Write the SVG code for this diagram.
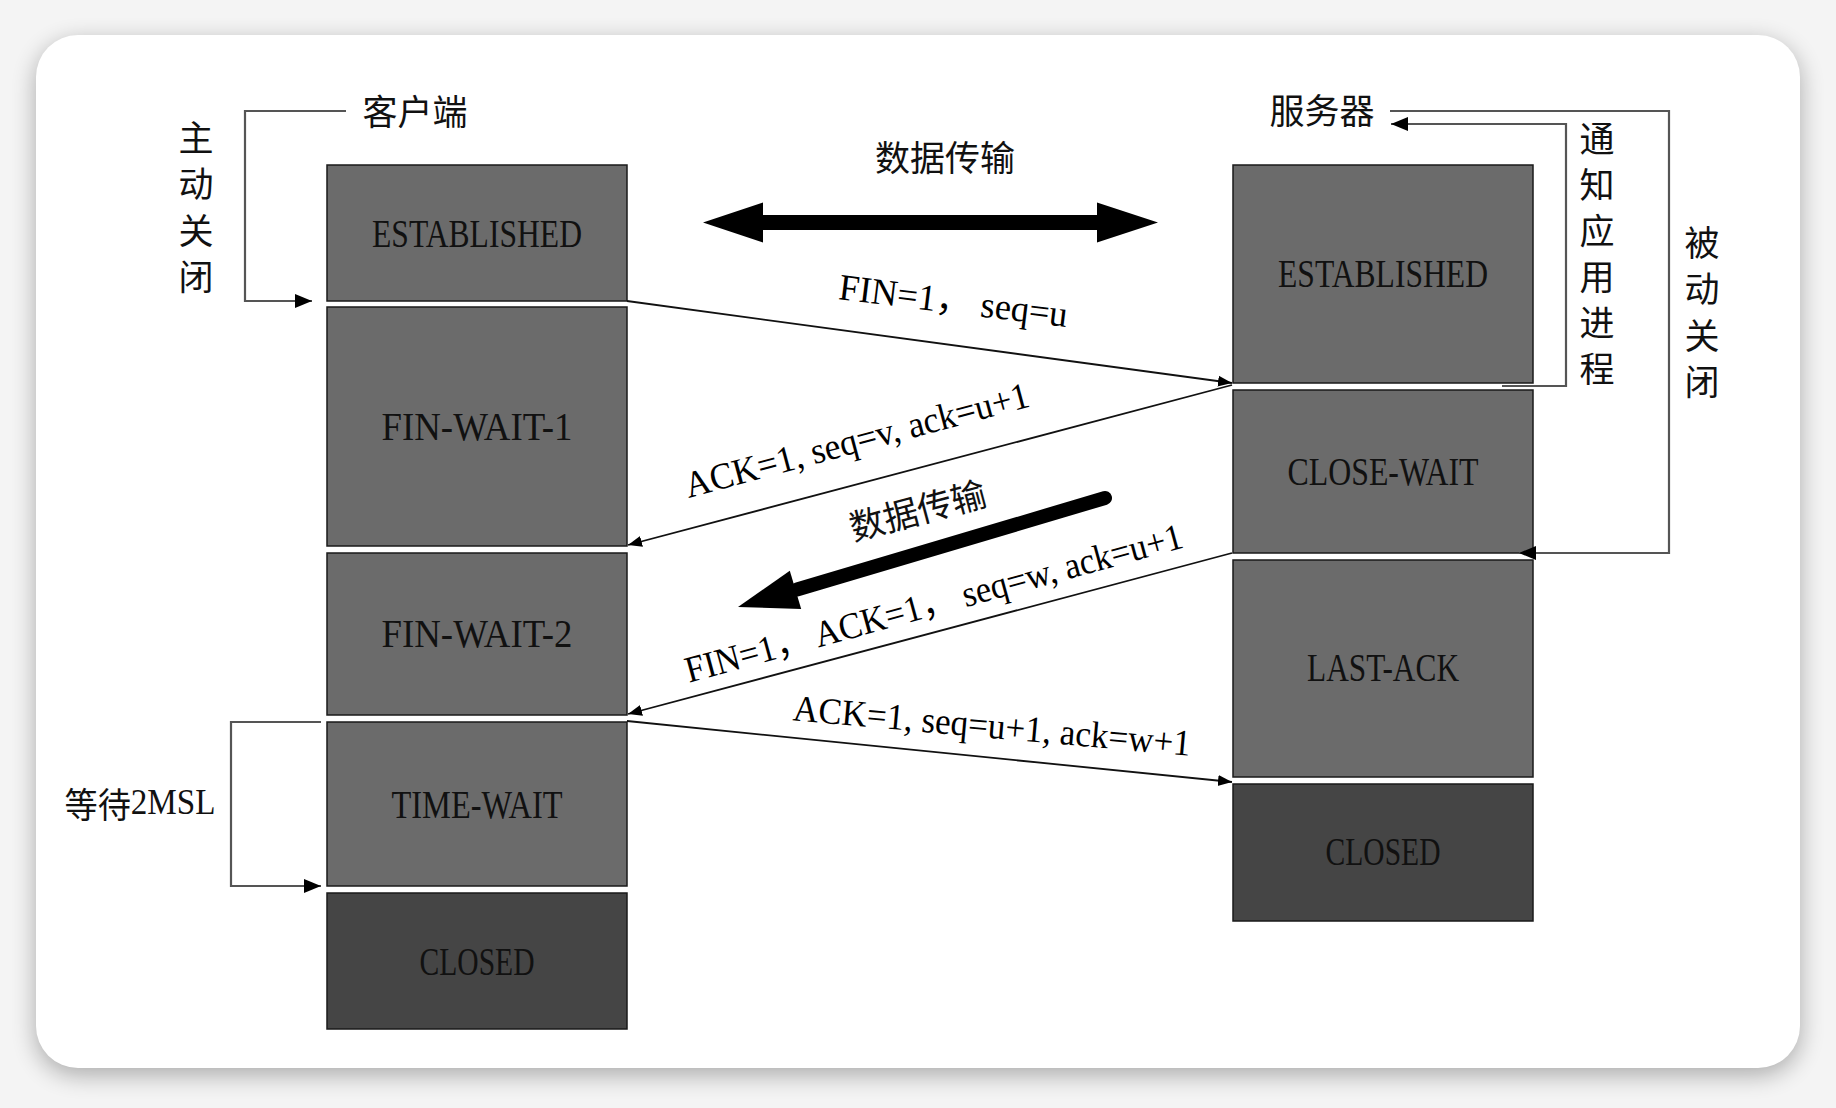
<svg xmlns="http://www.w3.org/2000/svg" width="1836" height="1108" viewBox="0 0 1836 1108">
  <style>
    .box { fill: #6b6b6b; stroke: #1a1a1a; stroke-width: 1.5; }
    .box-dark { fill: #454545; stroke: #1a1a1a; stroke-width: 1.5; }
    .state { font-family: "Liberation Serif", serif; font-size: 39px; fill: #111; text-anchor: middle; dominant-baseline: central; }
    .cjk { font-family: "Noto Sans CJK SC", sans-serif; font-size: 35px; fill: #111; text-anchor: middle; dominant-baseline: central; }
    .msg { font-family: "Liberation Serif", "Noto Sans CJK SC", serif; font-size: 37px; fill: #000; text-anchor: middle; }
    .conn { fill: none; stroke: #111; stroke-width: 1.8; }
    .bracket { fill: none; stroke: #555; stroke-width: 2.2; }
  </style>
  <defs>
    <marker id="arrowSmall" markerUnits="userSpaceOnUse" markerWidth="15" markerHeight="12" refX="14" refY="6" orient="auto">
      <path d="M0,0.5 L14,6 L0,11.5 z" fill="#000"/>
    </marker>
    <marker id="arrowBracket" markerUnits="userSpaceOnUse" markerWidth="18" markerHeight="15" refX="17" refY="7.5" orient="auto">
      <path d="M0,0.5 L17,7.5 L0,14.5 z" fill="#000"/>
    </marker>
    <filter id="shadow" x="-5%" y="-5%" width="110%" height="115%">
      <feGaussianBlur stdDeviation="12"/>
    </filter>
  </defs>

  <!-- background card -->
  <rect x="0" y="0" width="1836" height="1108" fill="#f4f4f4"/>
  <rect x="36" y="42" width="1764" height="1033" rx="42" fill="#000" opacity="0.3" filter="url(#shadow)"/>
  <rect x="36" y="35" width="1764" height="1033" rx="42" fill="#ffffff"/>

  <!-- client nodes -->
  <g id="client-established"><rect class="box" x="327" y="165" width="300" height="136"/><text class="state" x="477" y="233" textLength="210" lengthAdjust="spacingAndGlyphs">ESTABLISHED</text></g>
  <g id="client-fin-wait-1"><rect class="box" x="327" y="307" width="300" height="239"/><text class="state" x="477" y="426" textLength="191" lengthAdjust="spacingAndGlyphs">FIN-WAIT-1</text></g>
  <g id="client-fin-wait-2"><rect class="box" x="327" y="553" width="300" height="162"/><text class="state" x="477" y="633" textLength="191" lengthAdjust="spacingAndGlyphs">FIN-WAIT-2</text></g>
  <g id="client-time-wait"><rect class="box" x="327" y="722" width="300" height="164"/><text class="state" x="477" y="804" textLength="171" lengthAdjust="spacingAndGlyphs">TIME-WAIT</text></g>
  <g id="client-closed"><rect class="box-dark" x="327" y="893" width="300" height="136"/><text class="state" x="477" y="961" textLength="115" lengthAdjust="spacingAndGlyphs">CLOSED</text></g>

  <!-- server nodes -->
  <g id="server-established"><rect class="box" x="1233" y="165" width="300" height="218"/><text class="state" x="1383" y="273" textLength="210" lengthAdjust="spacingAndGlyphs">ESTABLISHED</text></g>
  <g id="server-close-wait"><rect class="box" x="1233" y="390" width="300" height="163"/><text class="state" x="1383" y="471" textLength="191" lengthAdjust="spacingAndGlyphs">CLOSE-WAIT</text></g>
  <g id="server-last-ack"><rect class="box" x="1233" y="560" width="300" height="217"/><text class="state" x="1383" y="667" textLength="152" lengthAdjust="spacingAndGlyphs">LAST-ACK</text></g>
  <g id="server-closed"><rect class="box-dark" x="1233" y="784" width="300" height="137"/><text class="state" x="1383" y="851" textLength="115" lengthAdjust="spacingAndGlyphs">CLOSED</text></g>

  <!-- side labels -->
  <g id="label-client"><text class="cjk" x="415" y="109">客户端</text></g>
  <g id="label-server"><text class="cjk" x="1322" y="108">服务器</text></g>
  <g id="label-active-close">
    <text class="cjk" x="196"><tspan x="196" y="135">主</tspan><tspan x="196" y="181">动</tspan><tspan x="196" y="228">关</tspan><tspan x="196" y="274">闭</tspan></text>
  </g>
  <g id="label-notify">
    <text class="cjk" x="1597"><tspan x="1597" y="136">通</tspan><tspan x="1597" y="182">知</tspan><tspan x="1597" y="228">应</tspan><tspan x="1597" y="274">用</tspan><tspan x="1597" y="320">进</tspan><tspan x="1597" y="366">程</tspan></text>
  </g>
  <g id="label-passive-close">
    <text class="cjk" x="1702"><tspan x="1702" y="240">被</tspan><tspan x="1702" y="286">动</tspan><tspan x="1702" y="333">关</tspan><tspan x="1702" y="379">闭</tspan></text>
  </g>
  <g id="label-2msl"><text class="cjk" x="140" y="802" textLength="151" lengthAdjust="spacingAndGlyphs">等待<tspan style="font-family:'Liberation Serif', serif">2MSL</tspan></text></g>
  <g id="label-data-top"><text class="cjk" x="945" y="155">数据传输</text></g>
  <g id="label-data-mid"><text class="cjk" transform="translate(917,508) rotate(-15)" x="0" y="0">数据传输</text></g>

  <!-- connectors -->
  <g id="connectors">
    <!-- brackets -->
    <polyline class="bracket" points="346,111 245,111 245,301 312,301" marker-end="url(#arrowBracket)"/>
    <polyline class="bracket" points="321,722 231,722 231,886 321,886" marker-end="url(#arrowBracket)"/>
    <polyline class="bracket" points="1502,386 1566,386 1566,124 1391,124" marker-end="url(#arrowBracket)"/>
    <polyline class="bracket" points="1390,111 1669,111 1669,553 1519,553" marker-end="url(#arrowBracket)"/>

    <!-- big double arrow -->
    <polygon points="703,222.5 763,202.5 763,215 1097,215 1097,202.5 1158,222.5 1097,242.5 1097,230 763,230 763,242.5" fill="#000"/>

    <!-- diagonal thick arrow -->
    <line x1="1105" y1="498" x2="797" y2="589.5" stroke="#000" stroke-width="14" stroke-linecap="round"/>
    <polygon points="738,607 789.8,570.7 801.2,609.1" fill="#000"/>

    <!-- messages -->
    <line class="conn" x1="627" y1="301" x2="1232" y2="383" marker-end="url(#arrowSmall)"/>
    <line class="conn" x1="1232" y1="385" x2="628" y2="545" marker-end="url(#arrowSmall)"/>
    <line class="conn" x1="1232" y1="553" x2="628" y2="714" marker-end="url(#arrowSmall)"/>
    <line class="conn" x1="627" y1="721" x2="1232" y2="782" marker-end="url(#arrowSmall)"/>

    <text class="msg" transform="translate(952,313) rotate(7)" textLength="230" lengthAdjust="spacingAndGlyphs">FIN=1， seq=u</text>
    <text class="msg" transform="translate(860,452) rotate(-15)" textLength="355" lengthAdjust="spacingAndGlyphs">ACK=1, seq=v, ack=u+1</text>
    <text class="msg" transform="translate(937,615) rotate(-15.3)" textLength="514" lengthAdjust="spacingAndGlyphs">FIN=1， ACK=1， seq=w, ack=u+1</text>
    <text class="msg" transform="translate(991,738) rotate(5.1)" textLength="399" lengthAdjust="spacingAndGlyphs">ACK=1, seq=u+1, ack=w+1</text>
  </g>
</svg>
